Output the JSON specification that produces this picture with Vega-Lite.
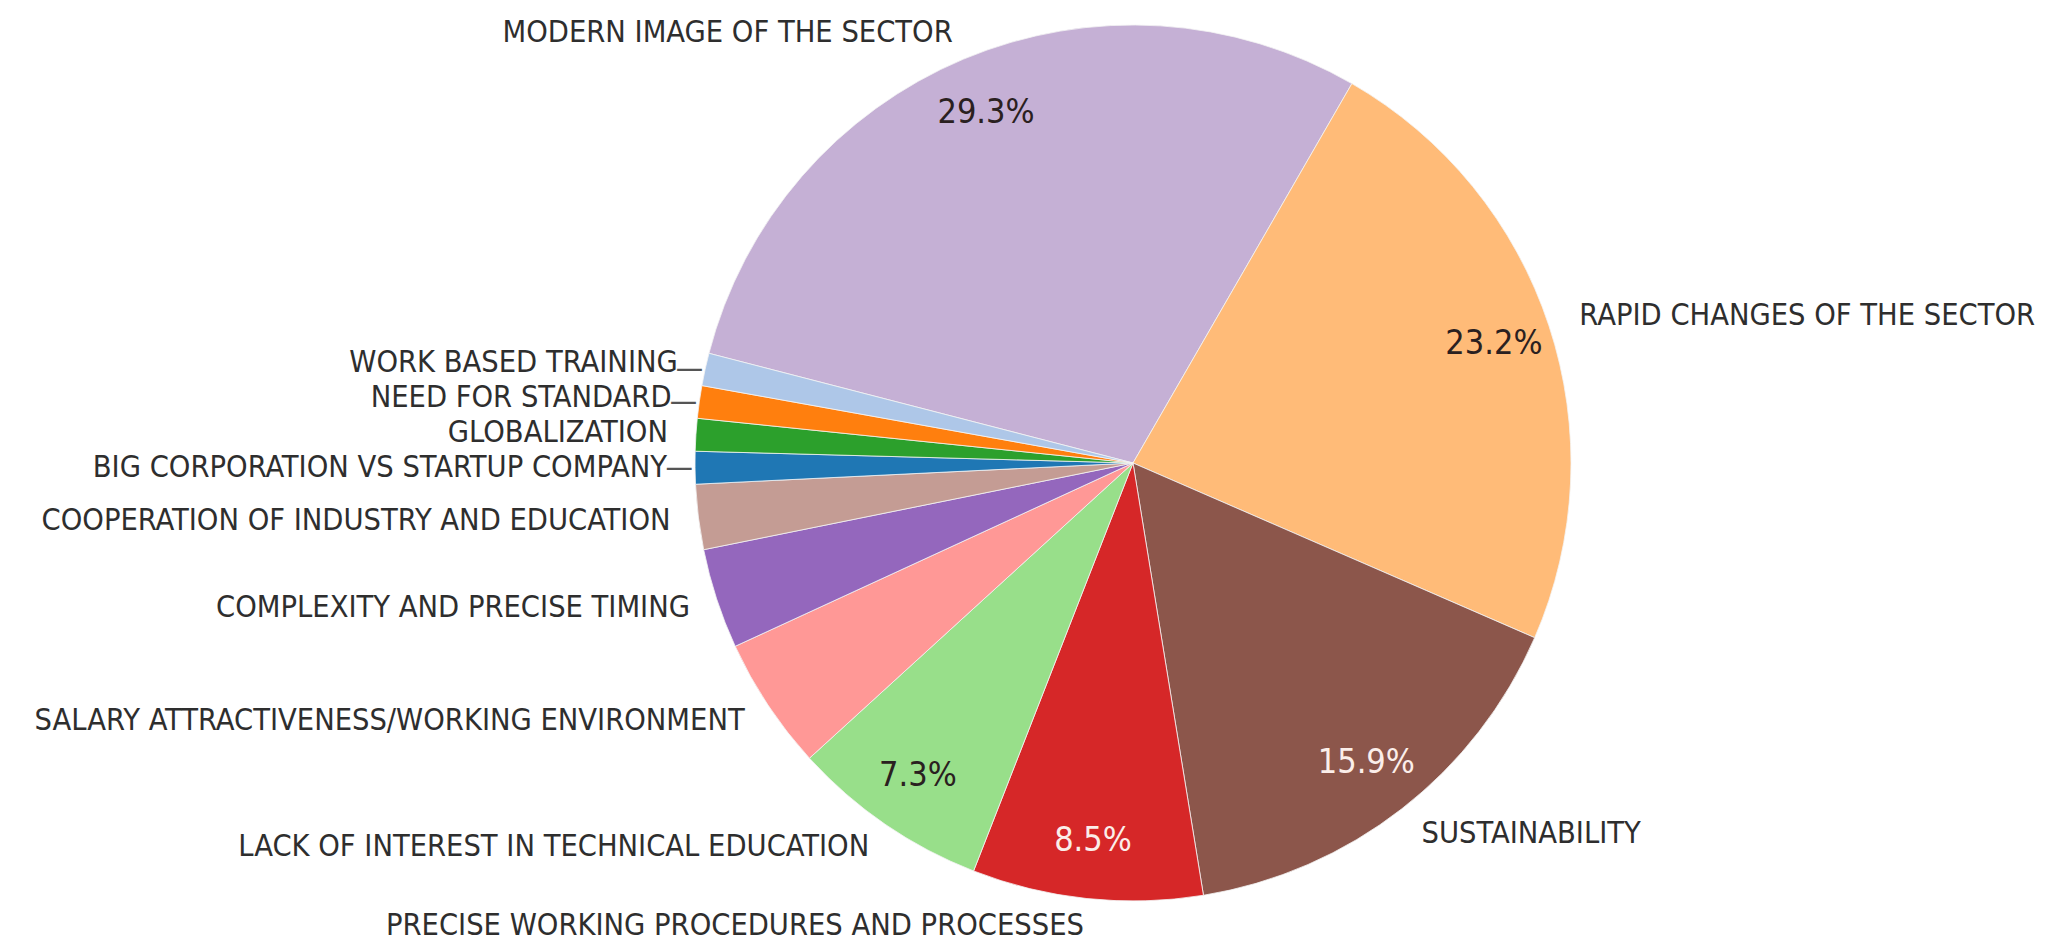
{
  "$schema": "https://vega.github.io/schema/vega-lite/v6.json",
  "autosize": "none",
  "width": 1850,
  "height": 926,
  "padding": {"left": 208, "top": 0, "right": 0, "bottom": 17},
  "background": "white",
  "config": {"view": {"stroke": null}, "text": {"font": "DejaVu Sans Condensed, Liberation Sans Narrow, DejaVu Sans"}},
  "data": {
    "values": [
      {"ord": 1, "cat": "MODERN IMAGE OF THE SECTOR", "share": 0.293},
      {"ord": 2, "cat": "RAPID CHANGES OF THE SECTOR", "share": 0.232},
      {"ord": 3, "cat": "SUSTAINABILITY", "share": 0.159},
      {"ord": 4, "cat": "PRECISE WORKING PROCEDURES AND PROCESSES", "share": 0.085},
      {"ord": 5, "cat": "LACK OF INTEREST IN TECHNICAL EDUCATION", "share": 0.073},
      {"ord": 6, "cat": "SALARY ATTRACTIVENESS/WORKING ENVIRONMENT", "share": 0.049},
      {"ord": 7, "cat": "COMPLEXITY AND PRECISE TIMING", "share": 0.037},
      {"ord": 8, "cat": "COOPERATION OF INDUSTRY AND EDUCATION", "share": 0.024},
      {"ord": 9, "cat": "BIG CORPORATION VS STARTUP COMPANY", "share": 0.012},
      {"ord": 10, "cat": "GLOBALIZATION", "share": 0.012},
      {"ord": 11, "cat": "NEED FOR STANDARD", "share": 0.012},
      {"ord": 12, "cat": "WORK BASED TRAINING", "share": 0.012}
    ]
  },
  "encoding": {
    "theta": {"field": "share", "type": "quantitative", "stack": true, "scale": {"range": [4.9655, 11.2487]}},
    "order": {"field": "ord", "type": "quantitative"},
    "detail": {"field": "cat", "type": "nominal"}
  },
  "layer": [
    {
      "mark": {"type": "arc", "radius": 438, "stroke": "#f4f4f4", "strokeWidth": 0.8},
      "encoding": {
        "color": {
          "field": "cat", "type": "nominal", "legend": null,
          "scale": {
            "domain": ["MODERN IMAGE OF THE SECTOR", "RAPID CHANGES OF THE SECTOR", "SUSTAINABILITY", "PRECISE WORKING PROCEDURES AND PROCESSES", "LACK OF INTEREST IN TECHNICAL EDUCATION", "SALARY ATTRACTIVENESS/WORKING ENVIRONMENT", "COMPLEXITY AND PRECISE TIMING", "COOPERATION OF INDUSTRY AND EDUCATION", "BIG CORPORATION VS STARTUP COMPANY", "GLOBALIZATION", "NEED FOR STANDARD", "WORK BASED TRAINING"],
            "range": ["#c5b0d5", "#ffbb78", "#8c564b", "#d62728", "#98df8a", "#ff9896", "#9467bd", "#c49c94", "#1f77b4", "#2ca02c", "#ff7f0e", "#aec7e8"]
          }
        }
      }
    },
    {
      "mark": {"type": "text", "radius": 466, "align": "right", "baseline": "middle", "fontSize": 30.5, "color": "#2e2e2e"},
      "encoding": {
        "text": {"condition": {"test": "datum.cat !== 'RAPID CHANGES OF THE SECTOR' && datum.cat !== 'SUSTAINABILITY'", "field": "cat"}, "value": ""}
      }
    },
    {
      "mark": {"type": "text", "radius": 470, "align": "left", "baseline": "middle", "fontSize": 30.5, "color": "#2e2e2e"},
      "encoding": {
        "text": {"condition": {"test": "datum.cat === 'RAPID CHANGES OF THE SECTOR' || datum.cat === 'SUSTAINABILITY'", "field": "cat"}, "value": ""}
      }
    },
    {
      "mark": {"type": "text", "radius": 440, "align": "right", "baseline": "middle", "fontSize": 30.5, "color": "#555555"},
      "encoding": {
        "text": {"condition": {"test": "datum.cat === 'WORK BASED TRAINING' || datum.cat === 'NEED FOR STANDARD' || datum.cat === 'BIG CORPORATION VS STARTUP COMPANY'", "value": "—"}, "value": ""}
      }
    },
    {
      "mark": {"type": "text", "radius": 380, "align": "center", "baseline": "middle", "fontSize": 34},
      "encoding": {
        "text": {"condition": {"test": "datum.share > 0.06", "field": "share", "format": ".1%"}, "value": ""},
        "color": {"condition": {"test": "datum.cat === 'SUSTAINABILITY' || datum.cat === 'PRECISE WORKING PROCEDURES AND PROCESSES'", "value": "#fbeeea"}, "value": "#2a2020"}
      }
    }
  ]
}
